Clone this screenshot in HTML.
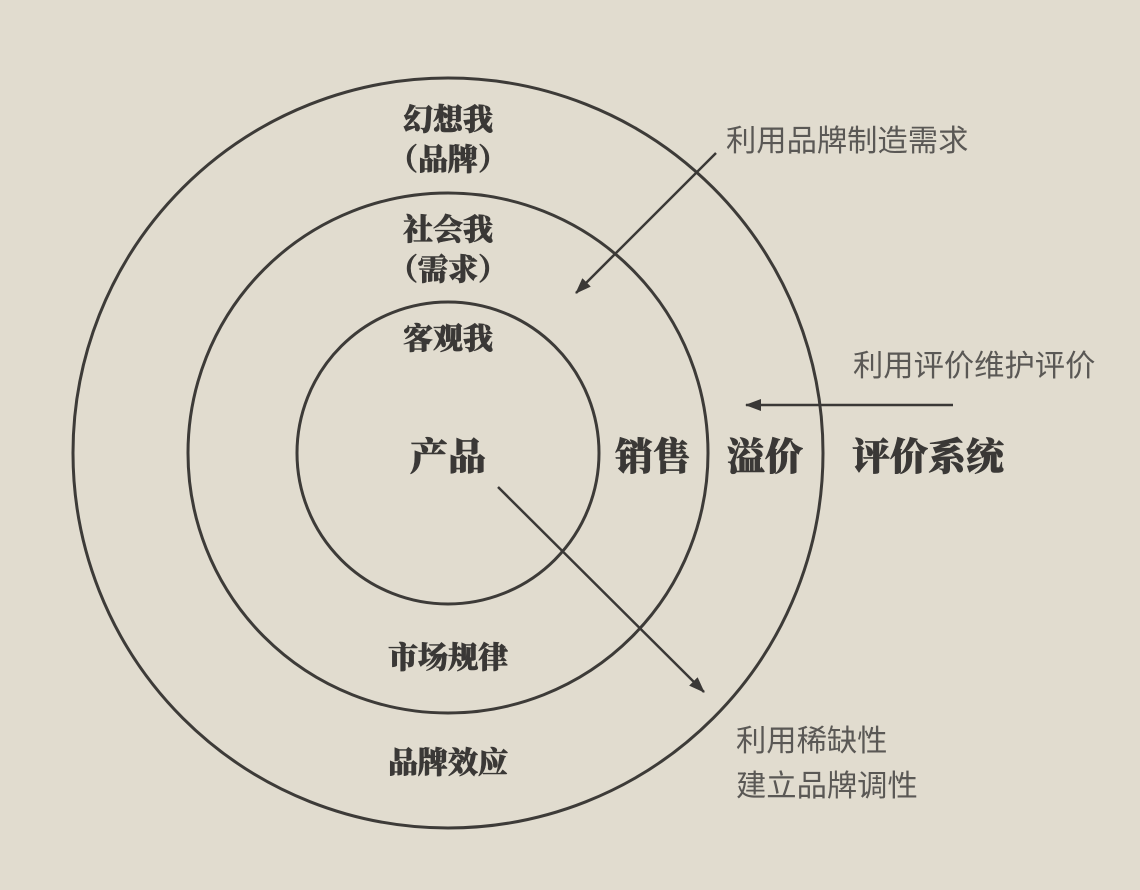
<!DOCTYPE html>
<html><head><meta charset="utf-8"><style>
html,body{margin:0;padding:0;}
body{width:1140px;height:890px;background:#e1dccf;overflow:hidden;}
svg{display:block}
.b{font-family:"Liberation Serif","Noto Serif CJK SC",serif;font-weight:900;fill:#3a3836;text-anchor:middle;stroke:#3a3836;stroke-width:0.6;}
.l{font-family:"Liberation Sans","Noto Sans CJK SC",sans-serif;fill:#5a5855;font-size:30.3px;}
</style></head><body>
<svg width="1140" height="890" viewBox="0 0 1140 890">
<defs>
<marker id="m" markerWidth="16" markerHeight="12" refX="15" refY="6" orient="auto" markerUnits="userSpaceOnUse"><path d="M0,0 L16,6 L0,12 Z" fill="#3a3836"/></marker></defs>
<g fill="none" stroke="#3d3b38" stroke-width="3">
<circle cx="448" cy="453" r="375"/>
<circle cx="448" cy="453" r="260"/>
<circle cx="448" cy="453" r="151"/>
</g>
<g stroke="#3a3836" stroke-width="2.5">
<line x1="716" y1="153" x2="576" y2="293" marker-end="url(#m)"/>
<line x1="953" y1="405" x2="746" y2="405" marker-end="url(#m)"/>
<line x1="498" y1="487" x2="704" y2="692" marker-end="url(#m)"/>
</g>
<text class="b" x="448" y="130" font-size="30">幻想我</text>
<text class="b" x="448" y="170" font-size="30">（品牌）</text>
<text class="b" x="448" y="240" font-size="30">社会我</text>
<text class="b" x="448" y="280" font-size="30">（需求）</text>
<text class="b" x="448" y="349" font-size="30">客观我</text>
<text class="b" x="448" y="470" font-size="38">产品</text>
<text class="b" x="653" y="470" font-size="38">销售</text>
<text class="b" x="765" y="470" font-size="38">溢价</text>
<text class="b" x="928" y="470" font-size="38">评价系统</text>
<text class="b" x="448" y="668" font-size="30">市场规律</text>
<text class="b" x="448" y="773" font-size="30">品牌效应</text>
<text class="l" x="726" y="151">利用品牌制造需求</text>
<text class="l" x="853" y="376">利用评价维护评价</text>
<text class="l" x="736" y="751">利用稀缺性</text>
<text class="l" x="736" y="796">建立品牌调性</text>
</svg>
</body></html>
